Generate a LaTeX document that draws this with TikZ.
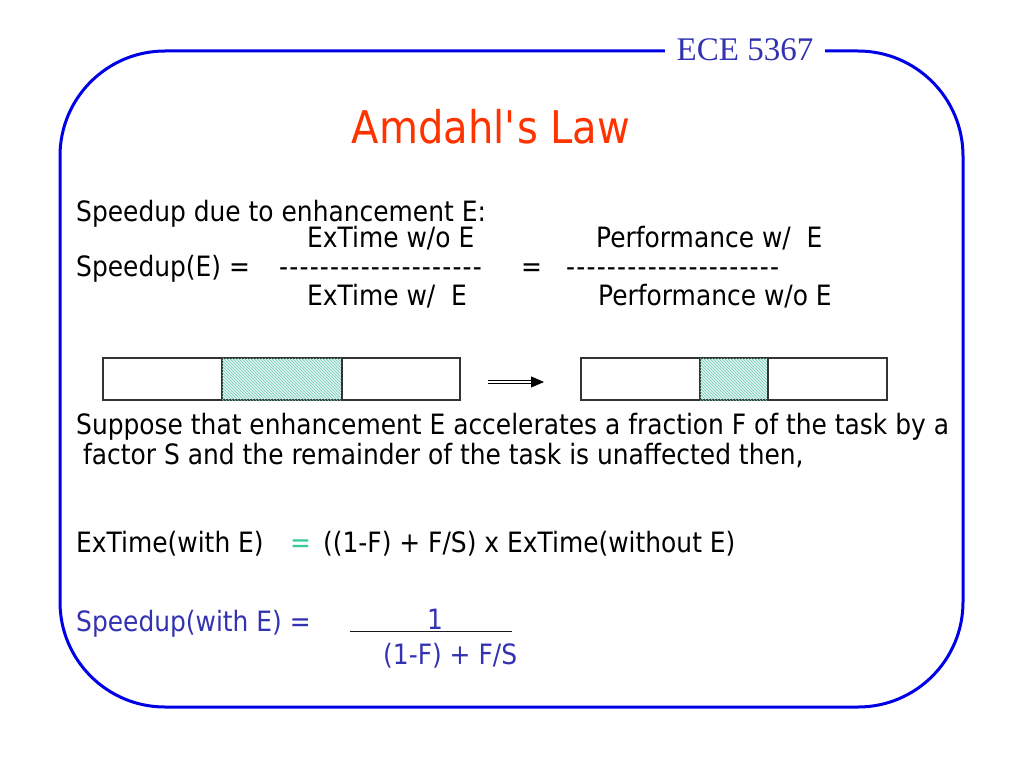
\documentclass[tikz,border=0pt]{standalone}
\usepackage{fontspec}
\setmainfont{DejaVu Sans}[FakeStretch=0.89]
\newfontfamily\eceface{Liberation Serif}
\usepackage{tikz}
\usetikzlibrary{positioning,patterns,arrows.meta}
\definecolor{frameblue}{RGB}{0,0,230}
\definecolor{textblue}{RGB}{51,51,178}
\definecolor{titlered}{RGB}{255,51,0}
\definecolor{eqgreen}{RGB}{51,204,153}
\definecolor{hatch}{RGB}{80,190,165}

\begin{document}
\begin{tikzpicture}[x=1pt,y=-1pt]
\tikzstyle{txt}=[inner sep=0pt, anchor=west, text height=0.72em, text depth=0.22em, font=\fontsize{28}{32}\selectfont]
\tikzstyle{part}=[rectangle, draw=black!80, line width=1.3pt, minimum height=42pt, inner sep=0pt, outer sep=0pt]
\tikzstyle{fast}=[fill=hatch!18, postaction={pattern=north west lines, pattern color=hatch!80}]
\useasboundingbox (0,0) rectangle (1024,768);

  % frame with the course label
  \draw[frameblue, line width=3pt, rounded corners=105pt] (60,51) rectangle (963,707);
  \node[fill=white, inner xsep=12pt, inner ysep=2pt, text=textblue, font=\eceface\fontsize{33}{36}\selectfont] (ece) at (745,50) {ECE 5367};
  \node[text=titlered, font=\fontsize{45}{50}\selectfont] (title) at (491,127) {Amdahl\textquotesingle s Law};

  % definition
  \node[txt] (def) at (76,219) {Speedup due to enhancement E:};
  \node[txt] (num1) at (307,245) {ExTime w/o E};
  \node[txt] (num2) at (596,245) {Performance w/\ \ E};
  \node[txt] (lhs) at (76,274) {Speedup(E) =};
  \node[txt] (bar1) at (279,274) {\foreach \k in {1,...,20}{-\kern1.2pt}};
  \node[txt] (eq1) at (521,274) {=};
  \node[txt] (bar2) at (566,274) {\foreach \k in {1,...,21}{-\kern1.2pt}};
  \node[txt] (den1) at (307,303) {ExTime w/\ \ E};
  \node[txt] (den2) at (598,303) {Performance w/o E};

  % task before and after
  \node[part, minimum width=119pt] (a1) at (162.5,379) {};
  \node[part, fast, minimum width=120pt, right=0pt of a1] (a2) {};
  \node[part, minimum width=118pt, right=0pt of a2] (a3) {};
  \node[part, minimum width=119pt] (b1) at (640.5,379) {};
  \node[part, fast, minimum width=68pt, right=0pt of b1] (b2) {};
  \node[part, minimum width=119pt, right=0pt of b2] (b3) {};
  \coordinate (from) at (488,382);
  \coordinate (mid) at (533,382);
  \coordinate (to) at (544,382);
  \draw[double, double distance=2.2pt, line width=0.9pt] (from) -- (mid);
  \draw[-{Triangle[length=13pt,width=11pt]}, line width=1pt] (mid) -- (to);

  % fraction F sped up by S
  \node[txt] (sup1) at (76,432) {Suppose that enhancement E accelerates a fraction F of the task by a};
  \node[txt] (sup2) at (83,462) {factor S and the remainder of the task is unaffected then,};

  \node[txt] (ext) at (76,550) {ExTime(with E)};
  \node[txt, text=eqgreen] (eq2) at (290,550) {=};
  \node[txt] (exr) at (323,550) {((1-F) + F/S) x ExTime(without E)};

  \node[txt, text=textblue] (spd) at (76,629) {Speedup(with E) =};
  \node[txt, text=textblue, anchor=center] (one) at (435,627) {1};
  \node[txt, text=textblue] (den) at (383,662) {(1-F) + F/S};
  \coordinate (fl) at (350,631);
  \coordinate (fr) at (512,631);
  \draw[black!90] (fl) -- (fr);
\end{tikzpicture}
\end{document}
